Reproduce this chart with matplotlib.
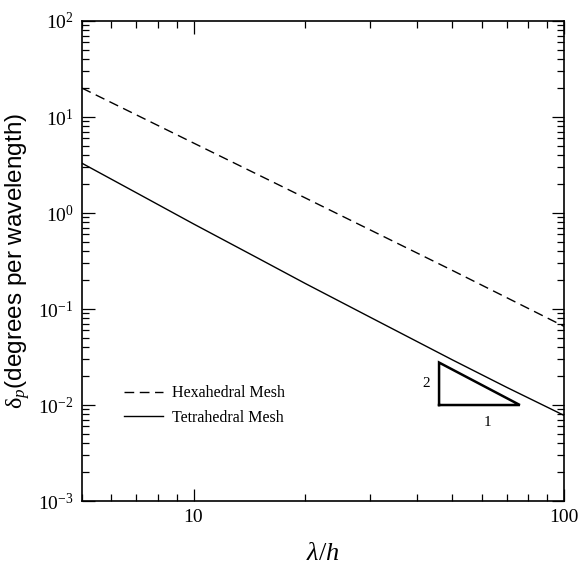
import numpy as np
import matplotlib
matplotlib.use("Agg")
import matplotlib.pyplot as plt
from matplotlib import ticker

plt.rcParams['font.family'] = 'Liberation Serif'
plt.rcParams['mathtext.fontset'] = 'custom'
plt.rcParams['mathtext.rm'] = 'Liberation Serif'
plt.rcParams['mathtext.it'] = 'Liberation Serif:italic'
plt.rcParams['mathtext.bf'] = 'Liberation Serif:bold'

# dispersion error vs. points per wavelength
tet_x = [5, 7, 10, 15, 20, 30, 50, 70, 100]
tet_y = [3.3, 1.63, 0.77, 0.335, 0.185, 0.082, 0.0295, 0.0153, 0.0078]
hex_x = [5, 10, 20, 50, 100]
hex_y = [20.0, 5.36, 1.44, 0.252, 0.066]

# slope triangle (2:1)
tri_x = [46, 76, 46, 46]
tri_y = [0.01, 0.01, 0.0277, 0.01]

fig = plt.figure(figsize=(5.79, 5.66), dpi=100)
ax = fig.add_axes([0.1416, 0.1148, 0.8325, 0.8481])

ax.plot(hex_x, hex_y, color='black', lw=1.0, ls=(0, (7, 4)), label='Hexahedral Mesh')
ax.plot(tet_x, tet_y, color='black', lw=1.0, label='Tetrahedral Mesh')
ax.plot(tri_x, tri_y, color='black', lw=1.8, solid_joinstyle='miter')
ax.text(42.5, 0.0168, '2', fontsize=11, ha='center', va='center')
ax.text(62, 0.0065, '1', fontsize=11, ha='center', va='center')

ax.set_xscale('log')
ax.set_yscale('log')
ax.set_xlim(5, 100)
ax.set_ylim(1e-3, 1e2)

ax.set_xticks([10, 100], ['10', '100'])
ax.xaxis.set_minor_formatter(ticker.NullFormatter())
ax.yaxis.set_major_locator(ticker.LogLocator(base=10, numticks=10))
ax.yaxis.set_minor_locator(ticker.LogLocator(base=10, subs=np.arange(2, 10), numticks=10))
ax.yaxis.set_minor_formatter(ticker.NullFormatter())
ax.tick_params(which='both', direction='in', top=True, right=True, labelsize=14, width=0.9)
ax.tick_params(which='major', length=9, pad=6)
ax.tick_params(which='minor', length=5)
for s in ax.spines.values():
    s.set_linewidth(1.2)

ax.set_xlabel(r'$\lambda/h$', fontsize=19, labelpad=12)
ax.set_ylabel(r'$\mathrm{\delta}_{p}$(degrees per wavelength)', fontsize=17.5,
              family='Liberation Sans', labelpad=4)

ax.legend(loc='center left', bbox_to_anchor=(0.058, 0.199), frameon=False,
          fontsize=11.5, handlelength=2.4, handletextpad=0.6, labelspacing=0.55)

fig.savefig('out.png', dpi=100)
